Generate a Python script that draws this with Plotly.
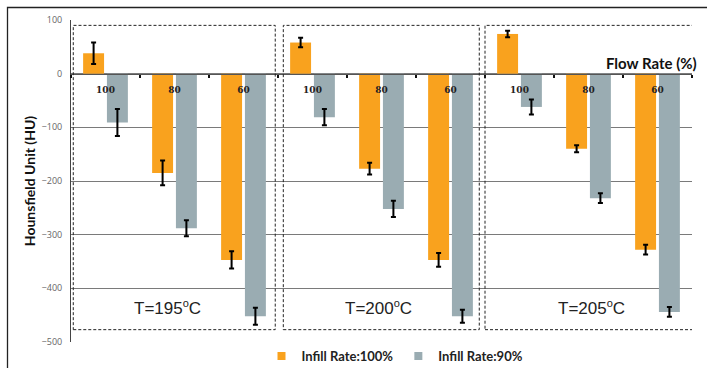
import plotly.graph_objects as go

# ---- data ----
temps = ["T=195", "T=200", "T=205"]
flow_rates = ["100", "80", "60"]
infill100 = [38, -185, -347, 58, -177, -347, 74, -140, -328]
infill100_err = [20, 23, 16, 9, 11, 13, 6, 6.5, 9]
infill90 = [-91, -288, -452, -81, -252, -452, -62, -232, -444]
infill90_err = [25, 15, 16, 15, 15, 12, 14, 9, 9]
series_names = ["Infill Rate:100%", "Infill Rate:90%"]
y_ticks = [100, 0, -100, -200, -300, -400, -500]

n = len(temps) * len(flow_rates)
xs = list(range(n))
tick_text = flow_rates * len(temps)

ORANGE = "#F9A21E"
GRAY = "#9AACB2"

W, H = 707, 368
PL, PR, PT, PB = 71, 692, 20, 342   # plot-area pixel edges

fig = go.Figure()
# outer frame on a full-page overlay axis (top and left edges)
fig.add_trace(go.Scatter(x=[7.5, 7.5, W], y=[H, 7.5, 7.5], mode="lines",
                         line=dict(color="#222", width=1.3), showlegend=False,
                         hoverinfo="skip", xaxis="x2", yaxis="y2", cliponaxis=False))
fig.add_trace(go.Bar(
    x=xs, y=infill100, name=series_names[0], showlegend=False,
    marker=dict(color=ORANGE, line=dict(width=0)),
    error_y=dict(type="data", array=infill100_err, color="black", thickness=2, width=2.5),
))
fig.add_trace(go.Bar(
    x=xs, y=infill90, name=series_names[1], showlegend=False,
    marker=dict(color=GRAY, line=dict(width=0)),
    error_y=dict(type="data", array=infill90_err, color="black", thickness=2, width=2.5),
))
# legend entries with small square symbols
for name, col in zip(series_names, [ORANGE, GRAY]):
    fig.add_trace(go.Scatter(x=[None], y=[None], mode="markers", name=name,
                             marker=dict(symbol="square", size=8, color=col)))

def fx(px):
    return px / W

def fy(py):
    return (H - py) / H

shapes = []
# dashed boxes around temperature groups
box_x = [(-0.467, 2.46), (2.577, 5.417), (5.5, 8.51)]
for x0, x1 in box_x:
    shapes.append(dict(type="rect", xref="x", yref="y", x0=x0, x1=x1, y0=-477, y1=90,
                       line=dict(color="#222", width=1, dash="3px,2px"), layer="above"))

annotations = []
temp_x = [0.90, 3.95, 7.04]
for t, xc in zip(temps, temp_x):
    txt = t + "<sup><span style='font-size:11px'>o</span></sup>C"
    annotations.append(dict(x=xc, y=-436, xref="x", yref="y", text=txt, showarrow=False,
                            font=dict(family="Liberation Sans, Arial", size=17, color="#222")))
annotations.append(dict(x=fx(699), y=fy(63), xref="paper", yref="paper",
                        xanchor="right", yanchor="middle", text="<b>Flow Rate (%)</b>",
                        showarrow=False,
                        font=dict(family="Lato, Open Sans", size=15, color="#111")))

fig.update_layout(
    width=W, height=H,
    margin=dict(l=0, r=0, t=0, b=0, pad=0, autoexpand=False),
    paper_bgcolor="white", plot_bgcolor="rgba(0,0,0,0)",
    barmode="group", bargap=0.31, bargroupgap=0.12,
    showlegend=True,
    legend=dict(orientation="h", x=fx(395), xanchor="center", y=fy(356), yanchor="middle",
                font=dict(family="Lato, Open Sans", size=13, color="#222", weight="bold"),
                itemwidth=30, tracegroupgap=0, bgcolor="rgba(0,0,0,0)"),
    xaxis=dict(
        domain=[fx(PL), fx(PR)],
        range=[-0.5, n - 0.5],
        tickmode="array", tickvals=xs, ticktext=tick_text,
        ticks="", showgrid=False, automargin=False,
        showline=True, linecolor="#555", linewidth=1,
        anchor="free", position=fy(73.7),
        tickfont=dict(family="DejaVu Serif", size=9, color="#222", weight="bold"),
        ticklabelstandoff=7,
        minor=dict(tickmode="array", tickvals=[i - 0.5 for i in range(n + 1)],
                   ticks="outside", ticklen=3, tickcolor="#111", tickwidth=1.5, showgrid=False),
        zeroline=False,
    ),
    yaxis=dict(
        domain=[fy(PB), fy(PT)],
        range=[-500, 100], tickmode="array", tickvals=y_ticks,
        showgrid=True, gridcolor="#7a7a7a", gridwidth=1, automargin=False,
        zeroline=False,
        showline=True, linecolor="#444", linewidth=1,
        tickfont=dict(family="Open Sans", size=9, color="#666"),
        ticks="", ticklabelstandoff=6,
        title=dict(text="<b>Hounsfield Unit (HU)</b>", standoff=2,
                   font=dict(family="Lato, Open Sans", size=14, color="#111")),
    ),
    xaxis2=dict(domain=[0, 1], range=[0, W], visible=False, fixedrange=True,
                anchor="y2", overlaying=None),
    yaxis2=dict(domain=[0, 1], range=[H, 0], visible=False, fixedrange=True,
                anchor="x2"),
    shapes=shapes,
    annotations=annotations,
)

fig.write_html("out.html", config={"displayModeBar": False},
               post_script="document.body.style.margin='0';document.body.style.overflow='hidden';")
